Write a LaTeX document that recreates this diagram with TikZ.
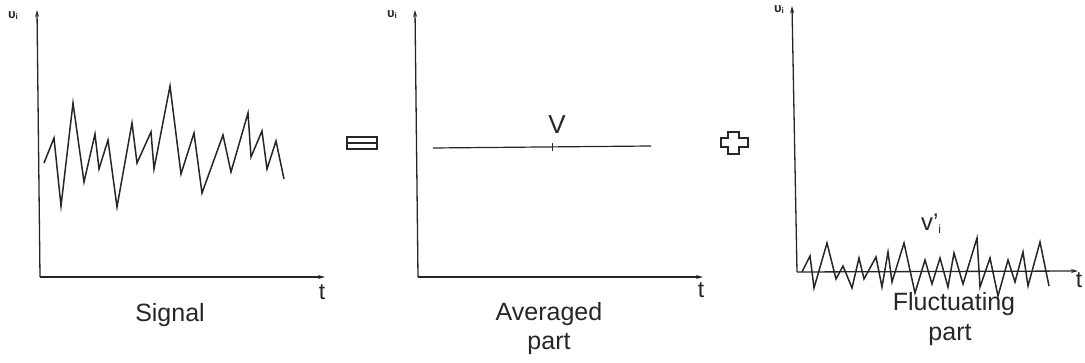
\documentclass[tikz,border=0pt]{standalone}
\usepackage{fontspec}
\setmainfont{Liberation Sans}
\usetikzlibrary{arrows.meta}
\tikzset{
  axisline/.style={draw=black!85, line width=1.3pt, -{Stealth[length=7pt,width=4pt]}},
  wave/.style={draw=black!85, line width=1.5pt, line join=miter},
  biglabel/.style={font=\fontsize{25}{30}\selectfont, text=black!85, anchor=base, inner sep=0pt},
  tlabel/.style={font=\fontsize{23}{26}\selectfont, text=black!85, anchor=base, inner sep=0pt},
  ylab/.style={font=\fontsize{13}{14}\selectfont\bfseries, text=black!85, inner sep=0pt},
  opsign/.style={draw=black!85, line width=1.3pt},
}
\newcommand{\ylabtext}{υ\raisebox{-1pt}{\fontsize{8}{8}\selectfont i}}
\begin{document}
\begin{tikzpicture}[x=1pt,y=-1pt]
\useasboundingbox (0,0) rectangle (1085,363);

% ---------- Panel 1: Signal ----------
\coordinate (o1) at (40,277);
\coordinate (y1) at (37,10);
\coordinate (x1) at (325,277);
\draw[axisline] (o1) -- (y1);
\draw[axisline] (o1) -- (x1);
\node[ylab] (yl1) at (13,16) {\ylabtext};
\node[tlabel] (t1) at (322,300) {t};
\node[biglabel] (sig) at (170,322) {Signal};
\draw[wave] (44,163) -- (54,138) -- (61,206) -- (73,103) -- (84,182) -- (95,134)
  -- (99,169) -- (108,140) -- (117,207) -- (132,123) -- (137,163) -- (151,132)
  -- (154,169) -- (170,86) -- (181,174) -- (194,133) -- (202,193) -- (223,135)
  -- (231,172) -- (248,113) -- (251,157) -- (262,131) -- (267,169) -- (276,141)
  -- (284,179);

% ---------- equal sign ----------
\draw[opsign] (347,137) rectangle (377,143);
\draw[opsign] (347,143) rectangle (377,149);

% ---------- Panel 2: Averaged part ----------
\coordinate (o2) at (418,277);
\coordinate (y2) at (415,10);
\coordinate (x2) at (703,277);
\draw[axisline] (o2) -- (y2);
\draw[axisline] (o2) -- (x2);
\node[ylab] (yl2) at (392,15) {\ylabtext};
\node[tlabel] (t2) at (701,298) {t};
\coordinate (m1) at (433,148);
\coordinate (m2) at (651,146);
\draw[draw=black!85, line width=1.2pt] (m1) -- (m2);
\draw[draw=black!85, line width=0.8pt] (552,143) -- (552,151);
\node[biglabel, font=\fontsize{26}{30}\selectfont] (V) at (557,134) {V};
\node[biglabel] (avg) at (549,321) {Averaged};
\node[biglabel] (part2) at (549,350) {part};

% ---------- plus sign ----------
\draw[opsign] (721,138) -- (728,138) -- (728,132) -- (739,132) -- (739,138)
  -- (748,138) -- (748,147) -- (739,147) -- (739,154) -- (728,154) -- (728,147)
  -- (721,147) -- cycle;

% ---------- Panel 3: Fluctuating part ----------
\coordinate (o3) at (797,272);
\coordinate (y3) at (792,6);
\coordinate (x3) at (1078,271);
\draw[axisline] (o3) -- (y3);
\draw[axisline] (o3) -- (x3);
\node[ylab] (yl3) at (779,10) {\ylabtext};
\node[tlabel] (t3) at (1079,288) {t};
\node[biglabel, font=\fontsize{24}{28}\selectfont] (vp) at (931,231) {v'\raisebox{-3pt}{\fontsize{12}{12}\selectfont i}};
\node[biglabel] (fluc) at (954,311) {Fluctuating};
\node[biglabel] (part3) at (950,341) {part};
\draw[wave] (802,272) -- (810,256) -- (814,288) -- (827,243) -- (836,279) -- (843,266)
  -- (852,288) -- (859,258) -- (864,279) -- (876,257) -- (882,287) -- (888,252)
  -- (892,282) -- (904,243) -- (915,293) -- (925,260) -- (932,284) -- (940,258)
  -- (948,287) -- (954,253) -- (963,284) -- (977,238) -- (980,287) -- (990,258)
  -- (998,296) -- (1008,260) -- (1015,282) -- (1023,252) -- (1028,286) -- (1040,242)
  -- (1049,286);
\end{tikzpicture}
\end{document}
